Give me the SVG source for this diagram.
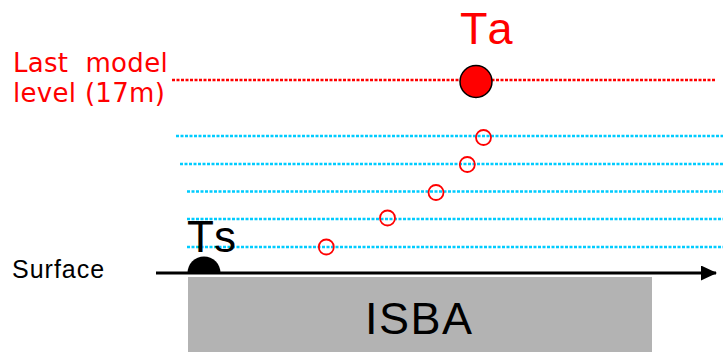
<svg xmlns="http://www.w3.org/2000/svg" width="723" height="352" viewBox="0 0 723 352">
<defs>
<style>
.lvl{stroke:#00ccff;stroke-width:2.5;stroke-dasharray:3 1.5;fill:none}
.top{stroke:#ff0000;stroke-width:2.5;stroke-dasharray:3 1.5;fill:none}
.pt{fill:none;stroke:#ff0000;stroke-width:1.8}
.sans{font-family:"Liberation Sans",Arial,sans-serif}
.dv{font-family:"DejaVu Sans",sans-serif}
</style>
<marker id="arr" viewBox="0 0 16 15" refX="15" refY="7.5" markerWidth="16" markerHeight="15" markerUnits="userSpaceOnUse" orient="auto">
<path d="M0,0 L16,7.5 L0,15 Z" fill="#000"/>
</marker>
</defs>
<rect width="723" height="352" fill="#fff"/>
<g id="isba">
<rect x="188" y="277" width="464" height="75" fill="#b3b3b3"/>
<text x="365" y="334" class="sans" font-size="45" letter-spacing="1.5" fill="#000">ISBA</text>
</g>
<g id="connectors">
<line class="top" x1="172" y1="80" x2="716" y2="80"/>
<line class="lvl" x1="176" y1="136" x2="723" y2="136"/>
<line class="lvl" x1="180" y1="164" x2="723" y2="164"/>
<line class="lvl" x1="187" y1="191.5" x2="723" y2="191.5"/>
<line class="lvl" x1="187" y1="219" x2="723" y2="219"/>
<line class="lvl" x1="187" y1="247" x2="723" y2="247"/>
<line x1="156" y1="273" x2="716" y2="273" stroke="#000" stroke-width="3" marker-end="url(#arr)"/>
</g>
<g id="label-last">
<text x="13" y="72" class="dv" font-size="26" letter-spacing="0.3" fill="#ff0000" xml:space="preserve">Last  model</text>
<text x="13" y="102" class="dv" font-size="26" letter-spacing="0.3" fill="#ff0000">level (17m)</text>
</g>
<g id="ta">
<circle cx="476" cy="81.5" r="16" fill="#ff0000" stroke="#000" stroke-width="1.5"/>
<text x="460" y="43.5" class="sans" font-size="45" letter-spacing="5" fill="#ff0000">Ta</text>
</g>
<g id="points">
<circle class="pt" cx="483.5" cy="137.5" r="7.5"/>
<circle class="pt" cx="467.3" cy="164.5" r="7.5"/>
<circle class="pt" cx="436" cy="192.5" r="7.5"/>
<circle class="pt" cx="387.5" cy="218" r="7.5"/>
<circle class="pt" cx="326.3" cy="247" r="7.5"/>
</g>
<g id="ts">
<path d="M187.5,273 A16.5,16.5 0 0 1 220.5,273 Z" fill="#000"/>
<text x="187" y="251.7" class="sans" font-size="44" letter-spacing="5" fill="#000">Ts</text>
</g>
<g id="surface">
<text x="12" y="278" class="sans" font-size="25" letter-spacing="1" fill="#000">Surface</text>
</g>
</svg>
